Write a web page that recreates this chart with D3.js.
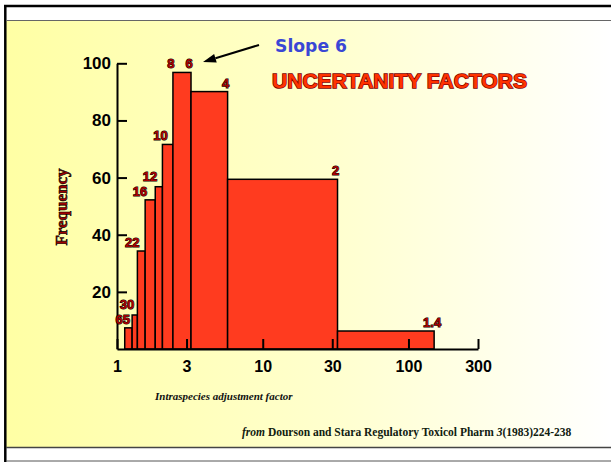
<!DOCTYPE html>
<html>
<head>
<meta charset="utf-8">
<script src="https://cdn.jsdelivr.net/npm/d3@7"></script>
<style>
	body { margin: 0; background: #fff; }
	svg { display: block; }
	.tick text { font-family: "Liberation Sans", Arial, sans-serif; font-weight: bold; fill: #000; }
</style>
</head>
<body>
<div id="chart"></div>
<script>
// bin edges on the adjustment factor axis (log)
var binEdges = [1.13, 1.27, 1.38, 1.56, 1.83, 2.05, 2.42, 3.22, 5.74, 32.6, 150];
// frequency of each bin
var binValues = [7.4, 11.9, 34.3, 52.2, 56.8, 71.6, 96.8, 90.1, 59.4, 6.3];
// labels written at each bin edge
var edgeLabels = ["65", "30", "22", "16", "12", "10", "8", "6", "4", "2", "1.4"];
var xTicks = [1, 3, 10, 30, 100, 300];
var yTicks = [20, 40, 60, 80, 100];

var width = 611, height = 462;

var svg = d3.select("#chart")
	.append("svg")
	.attr("width", width)
	.attr("height", height)
;

/*
	Slide frame and background
*/
var defs = svg.append("defs");
var grad = defs.append("linearGradient")
	.attr("id", "bg")
	.attr("x1", "0%").attr("y1", "0%")
	.attr("x2", "100%").attr("y2", "0%")
;
grad.append("stop").attr("offset", "0%").attr("stop-color", "#ffffa4");
grad.append("stop").attr("offset", "55%").attr("stop-color", "#ffffcf");
grad.append("stop").attr("offset", "100%").attr("stop-color", "#ffffff");

svg.append("rect")
	.attr("x", 6).attr("y", 21)
	.attr("width", width - 6).attr("height", 426)
	.attr("fill", "url(#bg)")
;
svg.append("line")
	.attr("x1", 4).attr("x2", width).attr("y1", 6).attr("y2", 6)
	.attr("stroke", "#000").attr("stroke-width", 2.5)
;
svg.append("line")
	.attr("x1", 5.3).attr("x2", 5.3).attr("y1", 5).attr("y2", height)
	.attr("stroke", "#000").attr("stroke-width", 2.5)
;
svg.append("line")
	.attr("x1", 6).attr("x2", width).attr("y1", 20.5).attr("y2", 20.5)
	.attr("stroke", "#666").attr("stroke-width", 1)
;
svg.append("line")
	.attr("x1", 6).attr("x2", width).attr("y1", 447.5).attr("y2", 447.5)
	.attr("stroke", "#444").attr("stroke-width", 1.5)
;
svg.append("line")
	.attr("x1", 6).attr("x2", width).attr("y1", 461).attr("y2", 461)
	.attr("stroke", "#555").attr("stroke-width", 1)
;

/*
	Scales
*/
var xScale = d3.scaleLog()
	.domain([1, 300])
	.range([117, 478])
;
var yScale = d3.scaleLinear()
	.domain([0, 100])
	.range([349, 63.3])
;

/*
	Bars
*/
var bins = binValues.map(function(v, i) {
	return { x0: binEdges[i], x1: binEdges[i + 1], value: v };
});

svg.append("g")
	.selectAll("rect")
	.data(bins)
	.enter()
	.append("rect")
	.attr("x", function(d) { return xScale(d.x0); })
	.attr("width", function(d) { return xScale(d.x1) - xScale(d.x0); })
	.attr("y", function(d) { return yScale(d.value); })
	.attr("height", function(d) { return yScale(0) - yScale(d.value); })
	.attr("fill", "#ff3b1f")
	.attr("stroke", "#000")
	.attr("stroke-width", 1.5)
;

/*
	Axes (ticks point inward, drawn over the bars)
*/
var yAxis = svg.append("g")
	.attr("transform", "translate(" + xScale(1) + ",0)")
	.call(d3.axisLeft(yScale)
		.tickValues(yTicks)
		.tickSizeInner(-10)
		.tickSizeOuter(0)
		.tickPadding(6))
;
yAxis.selectAll("text").style("font-size", "17px");

var xAxis = svg.append("g")
	.attr("transform", "translate(0," + yScale(0) + ")")
	.call(d3.axisBottom(xScale)
		.tickValues(xTicks)
		.tickFormat(d3.format("d"))
		.tickSizeInner(-10)
		.tickSizeOuter(0)
		.tickPadding(12))
;
xAxis.selectAll("text").style("font-size", "16px");

svg.selectAll(".domain, .tick line")
	.attr("stroke", "#000")
	.attr("stroke-width", 2)
;

/*
	Edge labels, above the taller neighbour bar,
	pushed up when they would sit on the previous label
*/
var labelY = [];
edgeLabels.forEach(function(d, i) {
	var left = i > 0 ? binValues[i - 1] : 0;
	var right = i < binValues.length ? binValues[i] : 0;
	var ly = yScale(Math.max(left, right)) - 4;
	if (i > 0 && ly > labelY[i - 1] - 15 && xScale(binEdges[i]) - xScale(binEdges[i - 1]) < 12) {
		ly = labelY[i - 1] - 15;
	}
	labelY.push(ly);
});

svg.append("g")
	.selectAll("text")
	.data(edgeLabels)
	.enter()
	.append("text")
	.text(function(d) { return d; })
	.attr("x", function(d, i) { return xScale(binEdges[i]); })
	.attr("y", function(d, i) { return labelY[i]; })
	.attr("dx", function(d, i) { return (i >= 1 && i <= 4) ? 2 : -2; })
	.attr("text-anchor", function(d, i) { return (i >= 1 && i <= 4) ? "end" : "middle"; })
	.style("font-family", "'Liberation Sans', Arial, sans-serif")
	.style("font-weight", "bold")
	.style("font-size", "13px")
	.style("fill", "#a80000")
	.style("stroke", "#000")
	.style("stroke-width", 1)
	.style("paint-order", "stroke")
;

/*
	Titles and notes
*/
svg.append("text")
	.attr("x", 272)
	.attr("y", 88)
	.attr("textLength", 255)
	.attr("lengthAdjust", "spacingAndGlyphs")
	.style("font-family", "'Liberation Sans', Arial, sans-serif")
	.style("font-weight", "bold")
	.style("font-size", "20px")
	.style("fill", "#ff3300")
	.style("stroke", "#7a0000")
	.style("stroke-width", 1.4)
	.style("paint-order", "stroke")
	.text("UNCERTANITY FACTORS")
;

svg.append("text")
	.attr("x", 275)
	.attr("y", 52)
	.attr("textLength", 72)
	.attr("lengthAdjust", "spacingAndGlyphs")
	.style("font-family", "'DejaVu Sans', Verdana, sans-serif")
	.style("font-weight", "bold")
	.style("font-size", "18px")
	.style("fill", "#3a47d5")
	.text("Slope 6")
;

// arrow pointing to the peak bar
var arrowFrom = [259, 45], arrowTo = [203, 62];
var ang = Math.atan2(arrowTo[1] - arrowFrom[1], arrowTo[0] - arrowFrom[0]);
var headLen = 13, headHalf = 4.5;
var bx = arrowTo[0] - headLen * Math.cos(ang), by = arrowTo[1] - headLen * Math.sin(ang);
svg.append("line")
	.attr("x1", arrowFrom[0]).attr("y1", arrowFrom[1])
	.attr("x2", bx).attr("y2", by)
	.attr("stroke", "#000").attr("stroke-width", 2)
;
svg.append("path")
	.attr("d", "M" + arrowTo[0] + "," + arrowTo[1] +
		"L" + (bx + headHalf * Math.sin(ang)) + "," + (by - headHalf * Math.cos(ang)) +
		"L" + (bx - headHalf * Math.sin(ang)) + "," + (by + headHalf * Math.cos(ang)) + "Z")
	.attr("fill", "#000")
;

svg.append("text")
	.attr("transform", "translate(67,207) rotate(-90)")
	.attr("text-anchor", "middle")
	.style("font-family", "'Liberation Serif', 'Times New Roman', serif")
	.style("font-weight", "bold")
	.style("font-size", "17px")
	.style("fill", "#a00000")
	.style("stroke", "#000")
	.style("stroke-width", 0.6)
	.text("Frequency")
;

svg.append("text")
	.attr("x", 155)
	.attr("y", 400)
	.style("font-family", "'Liberation Serif', 'Times New Roman', serif")
	.style("font-weight", "bold")
	.style("font-style", "italic")
	.style("font-size", "11px")
	.style("fill", "#111")
	.text("Intraspecies adjustment factor")
;

var src = svg.append("text")
	.attr("x", 242)
	.attr("y", 436)
	.style("font-family", "'Liberation Serif', 'Times New Roman', serif")
	.style("font-weight", "bold")
	.style("font-size", "11.5px")
	.style("fill", "#102010")
;
src.append("tspan").style("font-style", "italic").text("from ");
src.append("tspan").text("Dourson and Stara Regulatory Toxicol Pharm ");
src.append("tspan").style("font-style", "italic").text("3");
src.append("tspan").text("(1983)224-238");
</script>
</body>
</html>
